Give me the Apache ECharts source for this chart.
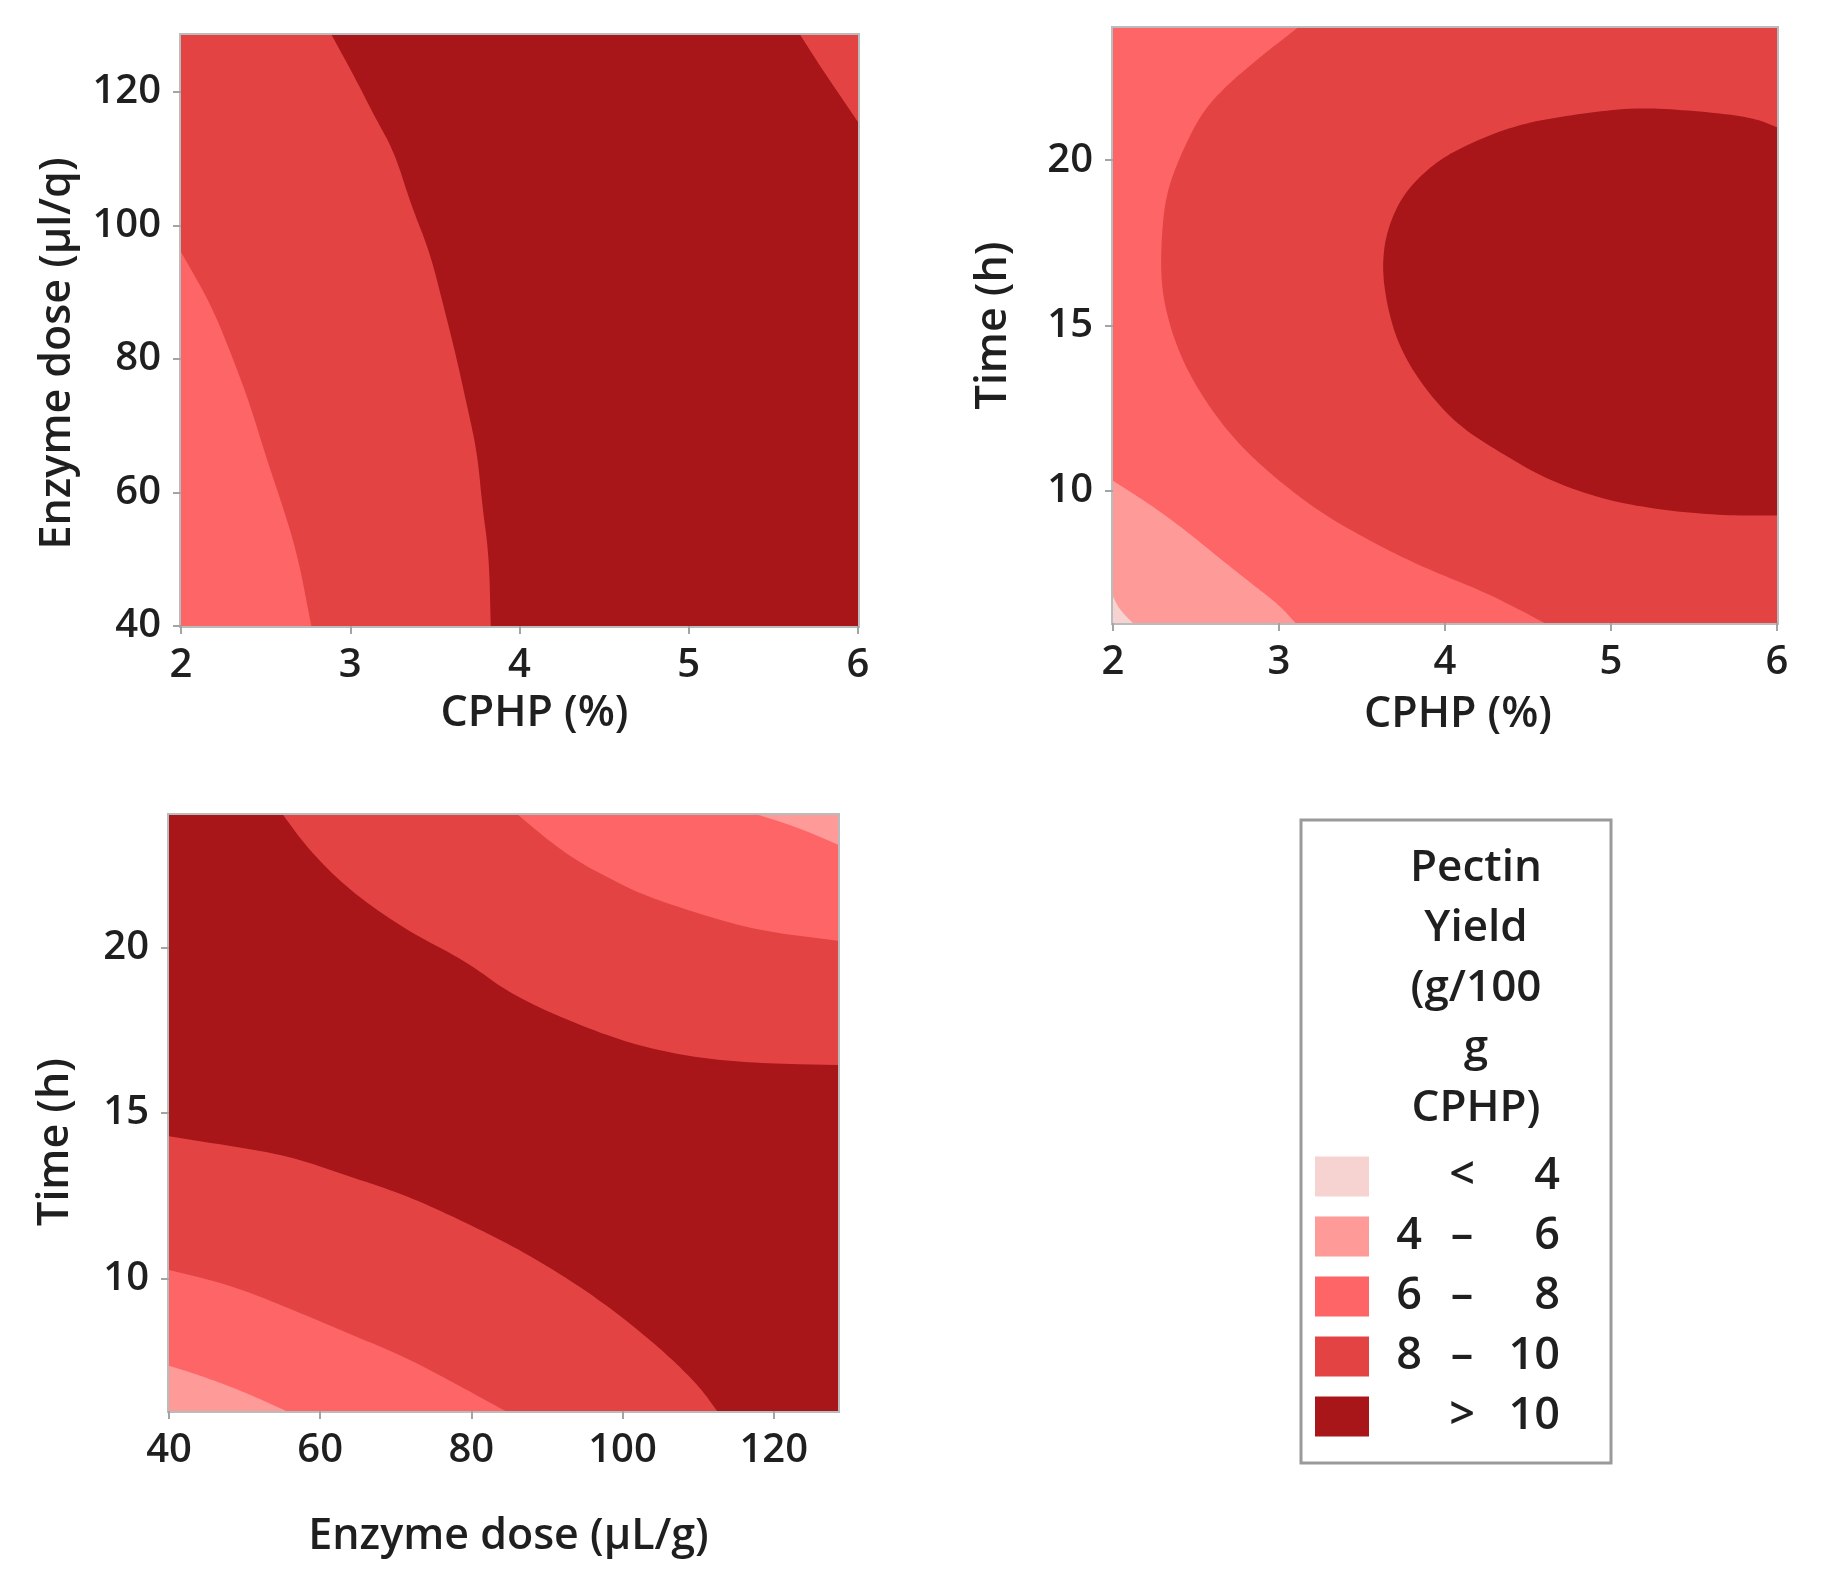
<!DOCTYPE html>
<html>
<head>
<meta charset="utf-8">
<script src="https://cdn.jsdelivr.net/npm/echarts@6/dist/echarts.min.js"></script>
<style>
html,body{margin:0;padding:0;background:#fff}
#main{width:1822px;height:1577px}
</style>
</head>
<body>
<div id="main"></div>
<script>
// contour levels (legend)
var levelLow  = ['',  '4', '6', '8', ''];
var levelMid  = ['<', '–', '–', '–', '>'];
var levelHigh = ['4', '6', '8', '10', '10'];
var levelColors = ['#f6d3d0', '#fe9a98', '#fe6567', '#e34443', '#a8161a'];
var levelNames = levelLow.map(function(v,i){ return (v ? v + ' ' : '') + levelMid[i] + ' ' + levelHigh[i]; });

// axis ranges and tick labels
var cphpRange = [2, 6];
var doseRange = [40, 128.5];
var timeRange = [6, 24];
var cphpTicks = [2, 3, 4, 5, 6];
var doseTicks = [40, 60, 80, 100, 120];
var timeTicks = [10, 15, 20];

// plot 1: CPHP (x) vs enzyme dose (y), contour boundaries
var p1Bound68 = [[2.0,96],[2.18,88],[2.30,80.5],[2.41,73],[2.50,65.5],[2.60,58],[2.69,50.5],[2.77,40]];
var p1Bound810 = [[2.89,128.5],[3.03,122],[3.15,116],[3.26,111],[3.36,103],[3.47,96],[3.55,88],[3.62,81],[3.69,73],[3.75,66],[3.78,58],[3.82,50.5],[3.83,40]];
var p1BoundCorner = [[5.66,128.5],[5.76,124.5],[6.0,115.5]];

// plot 2: CPHP (x) vs time (y)
var p2Bound4 = [[2.0,6.8],[2.04,6.4],[2.12,6.0]];
var p2Bound46 = [[2.0,10.3],[2.25,9.5],[2.45,8.75],[2.62,8.05],[2.82,7.25],[3.0,6.55],[3.1,6.0]];
var p2Bound810 = [[3.11,24],[2.88,23.1],[2.67,22.2],[2.53,21.4],[2.41,20.2],[2.32,19.0],[2.29,17.6],[2.29,16.2],[2.34,15.0],[2.43,13.8],[2.57,12.6],[2.74,11.5],[2.95,10.5],[3.23,9.4],[3.54,8.5],[3.86,7.7],[4.21,7.0],[4.45,6.4],[4.6,6.0]];
var p2Bound10 = [[6.0,21.0],[5.85,21.3],[5.5,21.5],[5.15,21.6],[4.8,21.4],[4.45,21.1],[4.14,20.5],[3.93,19.9],[3.75,19.0],[3.65,17.9],[3.62,16.8],[3.65,15.6],[3.72,14.4],[3.86,13.2],[4.07,12.0],[4.35,11.1],[4.63,10.3],[4.98,9.7],[5.33,9.4],[5.68,9.25],[6.0,9.25]];

// plot 3: enzyme dose (x) vs time (y)
var p3BoundTop46 = [[118,24],[123.5,23.6],[128.5,23.1]];
var p3BoundTop68 = [[86.2,24],[90.9,23.1],[94.8,22.5],[98.6,22.05],[102.5,21.6],[110.3,21.0],[118.1,20.5],[128.5,20.2]];
var p3BoundTop810 = [[55.1,24],[58.3,23.0],[63.7,21.75],[71.5,20.5],[79.2,19.6],[85.4,18.55],[94.8,17.6],[102.5,17.0],[110.3,16.65],[118.1,16.5],[128.5,16.45]];
var p3BoundLow810 = [[40,14.3],[48.2,14.0],[55.9,13.7],[63.7,13.1],[71.5,12.5],[79.2,11.7],[87.0,10.8],[94.8,9.7],[101.0,8.65],[106.4,7.6],[110.3,6.7],[112.5,6.0]];
var p3BoundLow68 = [[40,10.26],[48.2,9.8],[55.9,9.1],[63.7,8.35],[71.5,7.6],[77.7,6.85],[84.5,6.0]];
var p3BoundLow46 = [[40,7.37],[44.3,7.06],[49.7,6.6],[55.5,6.0]];

function rev(a){ return a.slice().reverse(); }
function box(xr, yr){ return [[xr[0],yr[0]],[xr[1],yr[0]],[xr[1],yr[1]],[xr[0],yr[1]]]; }

var regions = [
  // grid 0
  {g:0, lvl:2, pts: box(cphpRange, doseRange)},
  {g:0, lvl:3, pts: [[2,128.5]].concat(p1Bound68, [[6,40],[6,128.5]])},
  {g:0, lvl:4, pts: p1Bound810.concat([[6,40]], rev(p1BoundCorner))},
  {g:0, lvl:3, pts: p1BoundCorner.concat([[6,128.5]])},
  // grid 1
  {g:1, lvl:2, pts: box(cphpRange, timeRange)},
  {g:1, lvl:1, pts: p2Bound46.concat([[2,6]])},
  {g:1, lvl:0, pts: p2Bound4.concat([[2,6]])},
  {g:1, lvl:3, pts: p2Bound810.concat([[6,6],[6,24]])},
  {g:1, lvl:4, pts: p2Bound10},
  // grid 2
  {g:2, lvl:2, pts: box(doseRange, timeRange)},
  {g:2, lvl:3, pts: p3BoundTop68.concat([[128.5,6]], rev(p3BoundLow68), [[40,24]])},
  {g:2, lvl:4, pts: p3BoundTop810.concat([[128.5,6]], rev(p3BoundLow810), [[40,24]])},
  {g:2, lvl:1, pts: p3BoundTop46.concat([[128.5,24]])},
  {g:2, lvl:1, pts: p3BoundLow46.concat([[40,6]])}
];

function mid(a, b){ return [(a[0]+b[0])/2, (a[1]+b[1])/2]; }

// polygon through the boundary points; interior vertices get rounded,
// vertices lying on the plot frame stay sharp
function renderPoly(params, api){
  if (params.dataIndexInside > 0) return null;
  var cs = params.coordSys;
  var raw = [];
  for (var i = 0; i < params.dataInsideLength; i++) {
    raw.push(api.coord([api.value(0, i), api.value(1, i)]));
  }
  var n = raw.length;
  var edge = raw.map(function(p){
    return Math.abs(p[0]-cs.x) < 0.6 || Math.abs(p[0]-cs.x-cs.width) < 0.6 ||
           Math.abs(p[1]-cs.y) < 0.6 || Math.abs(p[1]-cs.y-cs.height) < 0.6;
  });
  var s = edge.indexOf(true);
  if (s < 0) s = 0;
  var out = [raw[s]];
  for (var k = 1; k <= n; k++) {
    var j = (s + k) % n;
    var prev = raw[(j-1+n)%n], cur = raw[j], next = raw[(j+1)%n];
    if (edge[j]) { out.push(cur); continue; }
    var a = mid(prev, cur), b = mid(cur, next);
    if (edge[(j-1+n)%n]) out.push(a);
    for (var t = 1; t <= 10; t++) {
      var u = t / 10, w0 = (1-u)*(1-u), w1 = 2*u*(1-u), w2 = u*u;
      out.push([w0*a[0] + w1*cur[0] + w2*b[0], w0*a[1] + w1*cur[1] + w2*b[1]]);
    }
  }
  return {type:'polygon', shape:{points: out}, style:{fill: api.visual('color')}};
}

var FONT = '"Open Sans", "DejaVu Sans", sans-serif';
var TXT = '#1f1f1f';
var FRAME = '#b8bcbc';

function axis(range, ticks, name, gap, pad){
  return {
    type:'value', min: range[0], max: range[1],
    name: name, nameLocation:'middle', nameGap: gap,
    nameTextStyle:{fontFamily:FONT, fontSize:43, fontWeight:600, color:TXT, padding: pad || 0},
    axisLine:{show:true, lineStyle:{color:FRAME, width:4}},
    axisTick:{show:true, customValues: ticks, length:8, lineStyle:{color:'#a0a6a6', width:2}},
    axisLabel:{customValues: ticks, margin:20, fontFamily:FONT, fontSize:40, fontWeight:600, color:TXT},
    splitLine:{show:false}
  };
}

var chart = echarts.init(document.getElementById('main'), null, {renderer:'canvas'});
var option = {
  animation:false,
  backgroundColor:'#fff',
  grid:[
    {left:181, top:35, width:677, height:591, show:true, borderColor:FRAME, borderWidth:4},
    {left:1113, top:28, width:664, height:595, show:true, borderColor:FRAME, borderWidth:4},
    {left:169, top:815, width:669, height:596, show:true, borderColor:FRAME, borderWidth:4}
  ],
  xAxis:[
    Object.assign(axis(cphpRange, cphpTicks, 'CPHP (%)', 66, [0,0,0,30]), {gridIndex:0}),
    Object.assign(axis(cphpRange, cphpTicks, 'CPHP (%)', 70, [0,0,0,26]), {gridIndex:1}),
    Object.assign(axis(doseRange, doseTicks, 'Enzyme dose (µL/g)', 104, [0,0,0,10]), {gridIndex:2})
  ],
  yAxis:[
    Object.assign(axis(doseRange, doseTicks, 'Enzyme dose (µl/q)', 102, [0,46,0,0]), {gridIndex:0}),
    Object.assign(axis(timeRange, timeTicks, 'Time (h)', 98), {gridIndex:1}),
    Object.assign(axis(timeRange, timeTicks, 'Time (h)', 92, [0,58,0,0]), {gridIndex:2})
  ],
  legend:{
    orient:'vertical', left:1310, top:1149,
    itemWidth:54, itemHeight:40, itemGap:15, icon:'rect',
    selectedMode:false,
    data: levelNames,
    formatter: function(name){
      var i = levelNames.indexOf(name);
      return '{a|' + levelLow[i] + '}{b|' + levelMid[i] + '}{c|' + levelHigh[i] + '}';
    },
    textStyle:{
      fontFamily:FONT, fontSize:45, fontWeight:600, color:TXT,
      rich:{
        a:{width:70, align:'center', fontFamily:FONT, fontSize:45, fontWeight:600, color:TXT, lineHeight:40},
        b:{width:36, align:'center', fontFamily:FONT, fontSize:45, fontWeight:600, color:TXT, lineHeight:40},
        c:{width:80, align:'right', fontFamily:FONT, fontSize:45, fontWeight:600, color:TXT, lineHeight:40}
      }
    }
  },
  graphic:[
    {type:'rect', shape:{x:1301, y:820, width:310, height:643},
     style:{fill:'none', stroke:'#9a9a9a', lineWidth:3}, z:-1},
    {type:'text', x:1476, y:838,
     style:{text:'Pectin\nYield\n(g/100\ng\nCPHP)', textAlign:'center', textVerticalAlign:'top',
            fontFamily:FONT, fontSize:44, fontWeight:600, lineHeight:60, fill:TXT}}
  ],
  series: regions.map(function(r){
    return {
      type:'custom', name: levelNames[r.lvl],
      xAxisIndex:r.g, yAxisIndex:r.g,
      encode:{x:0, y:1},
      data: r.pts,
      renderItem: renderPoly,
      itemStyle:{color: levelColors[r.lvl]},
      silent:true
    };
  })
};
chart.setOption(option);
</script>
</body>
</html>
